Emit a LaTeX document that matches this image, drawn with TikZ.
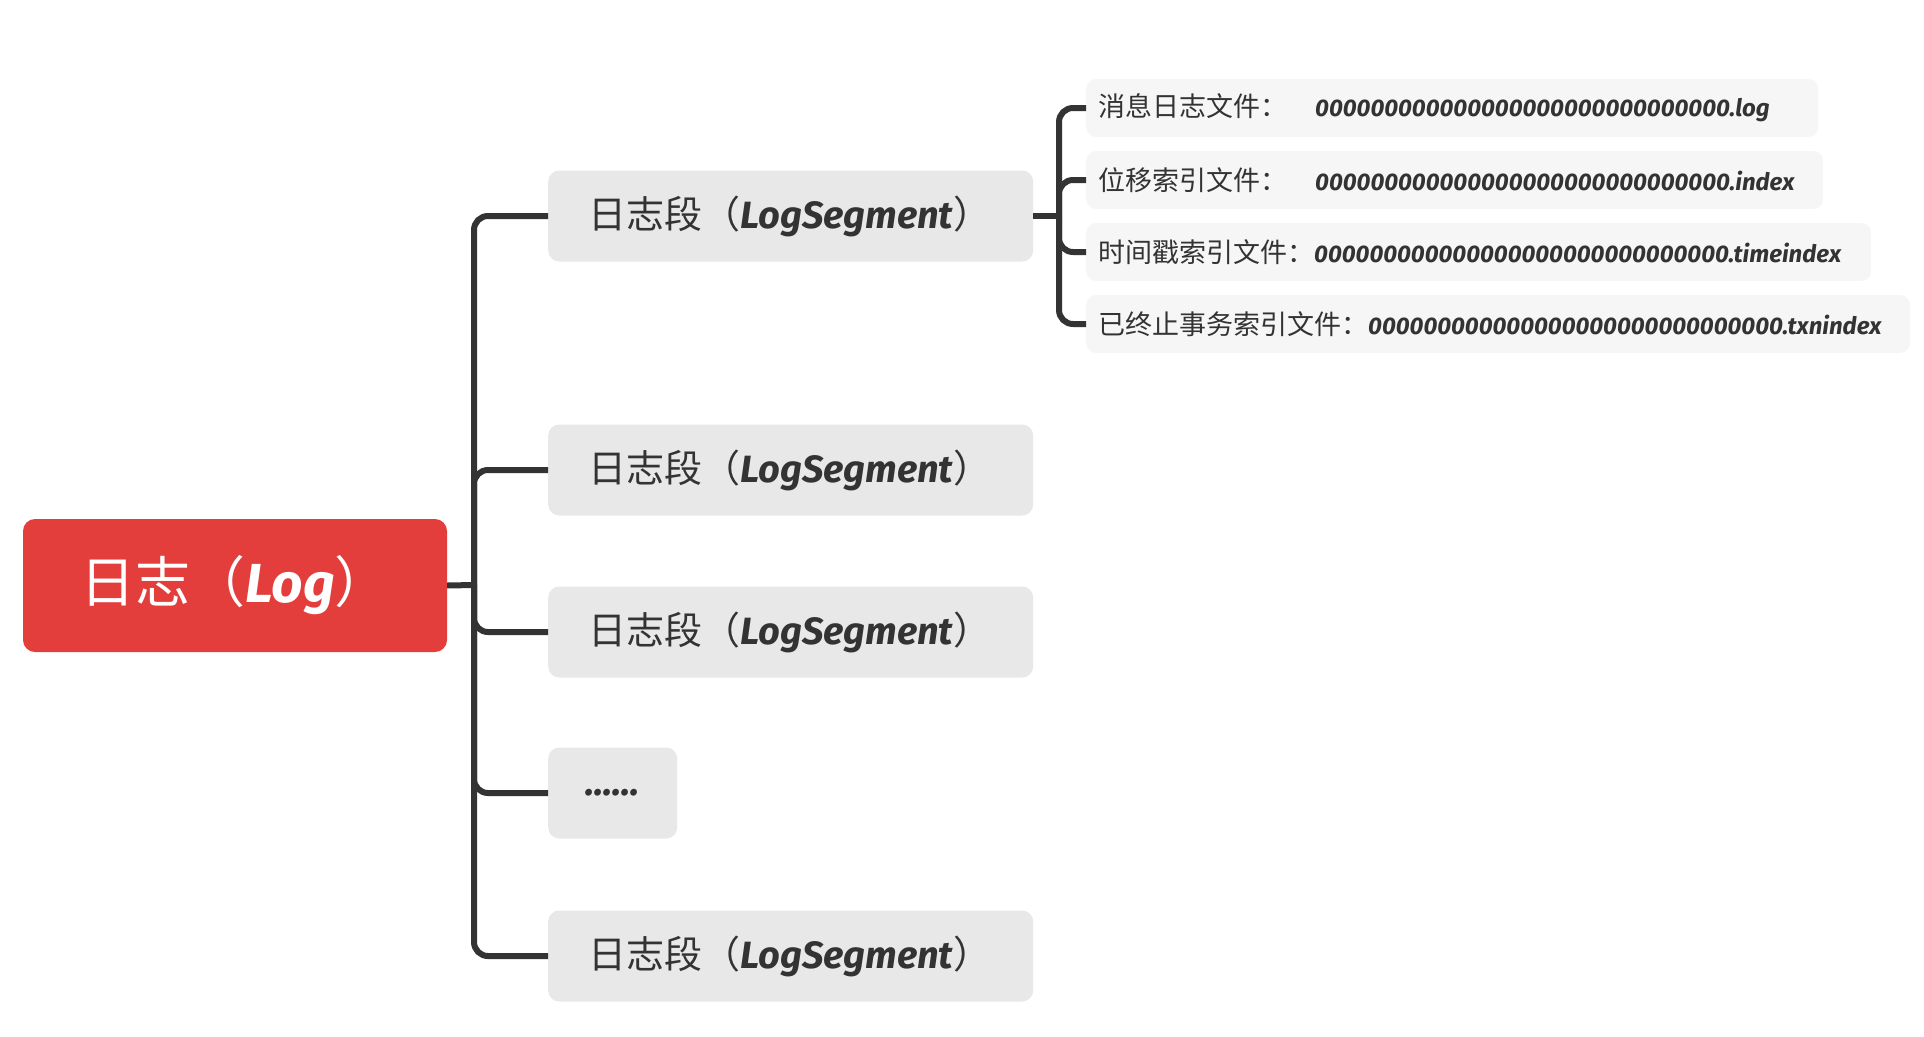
\documentclass[tikz,border=0pt]{standalone}
\usepackage{fontspec}
\newfontfamily\cjk{Noto Sans CJK SC}
\newfontfamily\lat{Fira Sans}
\definecolor{rootred}{HTML}{E33E3B}
\definecolor{segfill}{HTML}{E8E8E8}
\definecolor{subfill}{HTML}{F6F6F6}
\definecolor{ink}{HTML}{333333}
\newcommand{\lt}[1]{{\lat\bfseries\itshape #1}}
\newcommand{\zz}{000000000000000000000000000000}
\newcommand{\segtext}{\raisebox{-3pt}{日志段（\lt{LogSegment}）}}
\begin{document}
\begin{tikzpicture}[x=1pt,y=-1pt,
  rootbox/.style={fill=rootred, rounded corners=12pt, minimum width=424pt, minimum height=133pt, text=white, inner sep=0pt},
  segbox/.style={fill=segfill, rounded corners=11pt, minimum height=91pt, anchor=west, inner xsep=40pt, inner ysep=0pt, text=ink},
  subbox/.style={fill=subfill, rounded corners=10pt, minimum height=58pt, anchor=west, inner xsep=12pt, inner ysep=0pt, text=ink},
  conn/.style={draw=ink, line width=6pt, rounded corners=14pt},
  segtxt/.style={font=\cjk\fontsize{38}{44}\selectfont},
  subtxt/.style={font=\cjk\fontsize{27}{32}\selectfont}]
\useasboundingbox (0,0) rectangle (1924,1036);
% root
\node[rootbox, font=\cjk\fontsize{55}{62}\selectfont] (root) at (235,585.5) {\raisebox{-2pt}{日志（\lt{Log}）}};
% segments
\node[segbox, segtxt] (s1) at (548,216) {\makebox[405pt][l]{\segtext}};
\node[segbox, segtxt] (s2) at (548,470) {\makebox[405pt][l]{\segtext}};
\node[segbox, segtxt] (s3) at (548,632) {\makebox[405pt][l]{\segtext}};
\node[segbox, segtxt, inner xsep=0pt] (s4) at (548,793) {\makebox[129pt][c]{\raisebox{-4pt}{\lt{......}}}};
\node[segbox, segtxt] (s5) at (548,956) {\makebox[405pt][l]{\segtext}};
% sub files
\node[subbox, subtxt] (f1) at (1086,108) {\makebox[708pt][l]{\makebox[217pt][l]{消息日志文件：}\lt{\fontsize{24}{30}\selectfont\zz.log}}};
\node[subbox, subtxt] (f2) at (1086,180) {\makebox[713pt][l]{\makebox[217pt][l]{位移索引文件：}\lt{\fontsize{24}{30}\selectfont\zz.index}}};
\node[subbox, subtxt] (f3) at (1086,252) {\makebox[761pt][l]{时间戳索引文件：\lt{\fontsize{24}{30}\selectfont\zz.timeindex}}};
\node[subbox, subtxt] (f4) at (1086,324) {\makebox[800pt][l]{已终止事务索引文件：\lt{\fontsize{24}{30}\selectfont\zz.txnindex}}};
% connectors
\coordinate (J) at (474,585);
\coordinate (K) at (1059,216);
\draw[conn, rounded corners=0pt] (root.east) -- (J);
\foreach \n in {s1,s2,s3,s4,s5} \draw[conn] (J) |- (\n.west);
\draw[conn, rounded corners=0pt] (s1.east) -- (K);
\foreach \n in {f1,f2,f3,f4} \draw[conn] (K) |- (\n.west);
\end{tikzpicture}
\end{document}
